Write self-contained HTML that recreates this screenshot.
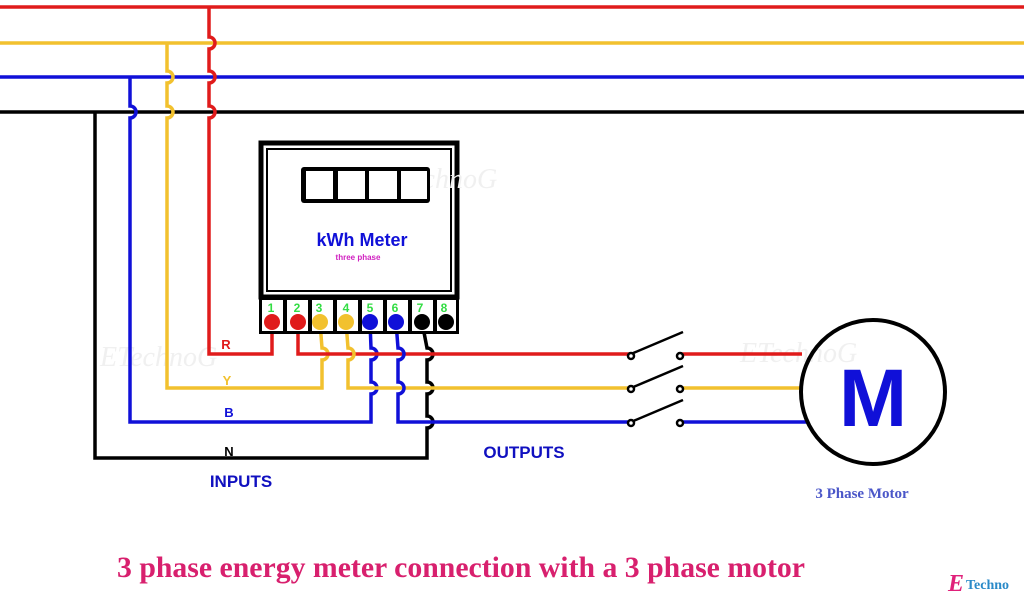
<!DOCTYPE html>
<html><head><meta charset="utf-8"><style>html,body{margin:0;padding:0;background:#fff;}svg{display:block}</style></head>
<body>
<svg width="1024" height="600" viewBox="0 0 1024 600" xmlns="http://www.w3.org/2000/svg" font-family="Liberation Sans, sans-serif">
<rect width="1024" height="600" fill="#fff"/>
<!-- watermarks -->
<g font-family="Liberation Serif, serif" font-style="italic" font-size="28" fill="#f0f0f0">
<text x="100" y="366">ETechnoG</text>
<text x="740" y="362">ETechnoG</text>
</g>
<g fill="none" stroke-width="3.5">
<line x1="0" y1="7" x2="1024" y2="7" stroke="#e01b1b"/>
<line x1="0" y1="43" x2="1024" y2="43" stroke="#f2c12e"/>
<line x1="0" y1="77" x2="1024" y2="77" stroke="#1010d8"/>
<line x1="0" y1="112" x2="1024" y2="112" stroke="#000"/>
<path stroke="#e01b1b" d="M209 7 V37 A6 6 0 0 1 209 49 V71 A6 6 0 0 1 209 83 V106 A6 6 0 0 1 209 118 V354 H272 V322"/>
<path stroke="#f2c12e" d="M167 43 V71 A6 6 0 0 1 167 83 V106 A6 6 0 0 1 167 118 V388 H322 V360 A6 6 0 0 0 322 348 L320 322"/>
<path stroke="#1010d8" d="M130 77 V106 A6 6 0 0 1 130 118 V422 H371 V394 A6 6 0 0 0 371 382 V360 A6 6 0 0 0 371 348 L370 322"/>
<path stroke="#000" d="M95 112 V458 H427 V428 A6 6 0 0 0 427 416 V394 A6 6 0 0 0 427 382 V360 A6 6 0 0 0 427 348 L422 322"/>
<path stroke="#e01b1b" d="M298 322 V354 H631"/>
<path stroke="#f2c12e" d="M346 322 L348 348 A6 6 0 0 1 348 360 V388 H631"/>
<path stroke="#1010d8" d="M396 322 L398 348 A6 6 0 0 1 398 360 V382 A6 6 0 0 1 398 394 V422 H631"/>
<line x1="680" y1="354" x2="802" y2="354" stroke="#e01b1b"/>
<line x1="680" y1="388" x2="800" y2="388" stroke="#f2c12e"/>
<line x1="680" y1="422" x2="807" y2="422" stroke="#1010d8"/>
</g>
<g stroke="#000" stroke-width="2.5" fill="#fff">
<line x1="631" y1="354" x2="683" y2="332"/>
<line x1="631" y1="388" x2="683" y2="366"/>
<line x1="631" y1="422" x2="683" y2="400"/>
<circle cx="631" cy="356" r="3"/><circle cx="680" cy="356" r="3"/>
<circle cx="631" cy="389" r="3"/><circle cx="680" cy="389" r="3"/>
<circle cx="631" cy="423" r="3"/><circle cx="680" cy="423" r="3"/>
</g>
<circle cx="873" cy="392" r="72" fill="none" stroke="#000" stroke-width="4"/>
<text x="873" y="426" text-anchor="middle" font-weight="bold" font-size="82" fill="#1010d8">M</text>
<text x="862" y="498" text-anchor="middle" font-family="Liberation Serif, serif" font-weight="bold" font-size="15" fill="#4a56c8">3 Phase Motor</text>
<rect x="261" y="143" width="196" height="154" fill="#fff" stroke="#000" stroke-width="5"/>
<rect x="267" y="149" width="184" height="142" fill="none" stroke="#000" stroke-width="2"/>
<text x="380" y="188" font-family="Liberation Serif, serif" font-style="italic" font-size="28" fill="#f0f0f0">ETechnoG</text>
<rect x="301" y="167" width="129" height="36" rx="3" fill="#000"/>
<g fill="#fff"><rect x="306" y="171" width="27" height="28"/><rect x="338" y="171" width="27" height="28"/><rect x="369" y="171" width="28" height="28"/><rect x="401" y="171" width="26" height="28"/></g>
<text x="362" y="246" text-anchor="middle" font-weight="bold" font-size="18" fill="#1010d8">kWh Meter</text>
<text x="358" y="260" text-anchor="middle" font-weight="bold" font-size="8" fill="#d020c0">three phase</text>
<rect x="259" y="297" width="200" height="37" fill="#000"/>
<g fill="#fff">
<rect x="262" y="300" width="21" height="31"/><rect x="287" y="300" width="21" height="31"/><rect x="312" y="300" width="21" height="31"/><rect x="337" y="300" width="21" height="31"/><rect x="362" y="300" width="21" height="31"/><rect x="387" y="300" width="21" height="31"/><rect x="412" y="300" width="21" height="31"/><rect x="437" y="300" width="19" height="31"/>
</g>
<g font-size="12" font-weight="bold" fill="#33dd44" text-anchor="middle">
<text x="271" y="312">1</text><text x="297" y="312">2</text><text x="319" y="312">3</text><text x="346" y="312">4</text><text x="370" y="312">5</text><text x="395" y="312">6</text><text x="420" y="312">7</text><text x="444" y="312">8</text>
</g>
<circle cx="272" cy="322" r="8" fill="#e01b1b"/><circle cx="298" cy="322" r="8" fill="#e01b1b"/>
<circle cx="320" cy="322" r="8" fill="#f2c12e"/><circle cx="346" cy="322" r="8" fill="#f2c12e"/>
<circle cx="370" cy="322" r="8" fill="#1010d8"/><circle cx="396" cy="322" r="8" fill="#1010d8"/>
<circle cx="422" cy="322" r="8" fill="#000"/><circle cx="446" cy="322" r="8" fill="#000"/>
<g font-weight="bold" font-size="13" text-anchor="middle">
<text x="226" y="349" fill="#e01b1b">R</text>
<text x="227" y="385" fill="#f2c12e">Y</text>
<text x="229" y="417" fill="#1010d8">B</text>
<text x="229" y="456" fill="#000">N</text>
</g>
<text x="241" y="487" text-anchor="middle" font-weight="bold" font-size="17" fill="#1010c0">INPUTS</text>
<text x="524" y="458" text-anchor="middle" font-weight="bold" font-size="17" fill="#1010c0">OUTPUTS</text>
<text x="117" y="577" textLength="688" lengthAdjust="spacingAndGlyphs" font-family="Liberation Serif, serif" font-weight="bold" font-size="30" fill="#d8206e">3 phase energy meter connection with a 3 phase motor</text>
<text x="948" y="591" font-family="Liberation Serif, serif" font-style="italic" font-weight="bold" font-size="24" fill="#e0207a">E</text>
<text x="966" y="589" font-family="Liberation Serif, serif" font-weight="bold" font-size="14" fill="#2a8ac8">Techno</text>
</svg>
</body></html>
